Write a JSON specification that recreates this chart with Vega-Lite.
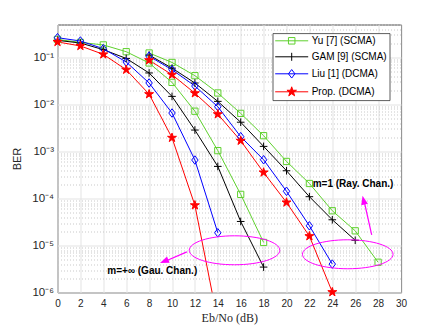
{
  "$schema": "https://vega.github.io/schema/vega-lite/v6.json",
  "width": 343.5,
  "height": 268,
  "autosize": {"type": "none"},
  "padding": {"left": 57.5, "top": 24.5, "right": 42, "bottom": 39.5},
  "background": "white",
  "datasets": {
    "curves": [
      {"m": "Yu [7] (SCMA)", "ch": "G", "x": 0, "ber": 0.241},
      {"m": "Yu [7] (SCMA)", "ch": "G", "x": 2, "ber": 0.208},
      {"m": "Yu [7] (SCMA)", "ch": "G", "x": 4, "ber": 0.184},
      {"m": "Yu [7] (SCMA)", "ch": "G", "x": 6, "ber": 0.132},
      {"m": "Yu [7] (SCMA)", "ch": "G", "x": 8, "ber": 0.076},
      {"m": "Yu [7] (SCMA)", "ch": "G", "x": 10, "ber": 0.0294},
      {"m": "Yu [7] (SCMA)", "ch": "G", "x": 12, "ber": 0.00716},
      {"m": "Yu [7] (SCMA)", "ch": "G", "x": 14, "ber": 0.00104},
      {"m": "Yu [7] (SCMA)", "ch": "G", "x": 16, "ber": 0.000122},
      {"m": "Yu [7] (SCMA)", "ch": "G", "x": 18, "ber": 0.0000116},
      {"m": "Yu [7] (SCMA)", "ch": "R", "x": 8, "ber": 0.124},
      {"m": "Yu [7] (SCMA)", "ch": "R", "x": 10, "ber": 0.078},
      {"m": "Yu [7] (SCMA)", "ch": "R", "x": 12, "ber": 0.0408},
      {"m": "Yu [7] (SCMA)", "ch": "R", "x": 14, "ber": 0.0175},
      {"m": "Yu [7] (SCMA)", "ch": "R", "x": 16, "ber": 0.00644},
      {"m": "Yu [7] (SCMA)", "ch": "R", "x": 18, "ber": 0.00216},
      {"m": "Yu [7] (SCMA)", "ch": "R", "x": 20, "ber": 0.000612},
      {"m": "Yu [7] (SCMA)", "ch": "R", "x": 22, "ber": 0.000208},
      {"m": "Yu [7] (SCMA)", "ch": "R", "x": 24, "ber": 0.0000547},
      {"m": "Yu [7] (SCMA)", "ch": "R", "x": 26, "ber": 0.0000205},
      {"m": "Yu [7] (SCMA)", "ch": "R", "x": 28, "ber": 0.0000044},
      {"m": "GAM [9] (SCMA)", "ch": "G", "x": 0, "ber": 0.23},
      {"m": "GAM [9] (SCMA)", "ch": "G", "x": 2, "ber": 0.202},
      {"m": "GAM [9] (SCMA)", "ch": "G", "x": 4, "ber": 0.146},
      {"m": "GAM [9] (SCMA)", "ch": "G", "x": 6, "ber": 0.095},
      {"m": "GAM [9] (SCMA)", "ch": "G", "x": 8, "ber": 0.0466},
      {"m": "GAM [9] (SCMA)", "ch": "G", "x": 10, "ber": 0.0148},
      {"m": "GAM [9] (SCMA)", "ch": "G", "x": 12, "ber": 0.00285},
      {"m": "GAM [9] (SCMA)", "ch": "G", "x": 14, "ber": 0.00048},
      {"m": "GAM [9] (SCMA)", "ch": "G", "x": 16, "ber": 0.0000324},
      {"m": "GAM [9] (SCMA)", "ch": "G", "x": 18, "ber": 0.00000347},
      {"m": "GAM [9] (SCMA)", "ch": "R", "x": 8, "ber": 0.112},
      {"m": "GAM [9] (SCMA)", "ch": "R", "x": 10, "ber": 0.059},
      {"m": "GAM [9] (SCMA)", "ch": "R", "x": 12, "ber": 0.0285},
      {"m": "GAM [9] (SCMA)", "ch": "R", "x": 14, "ber": 0.0116},
      {"m": "GAM [9] (SCMA)", "ch": "R", "x": 16, "ber": 0.00418},
      {"m": "GAM [9] (SCMA)", "ch": "R", "x": 18, "ber": 0.00128},
      {"m": "GAM [9] (SCMA)", "ch": "R", "x": 20, "ber": 0.000388},
      {"m": "GAM [9] (SCMA)", "ch": "R", "x": 22, "ber": 0.000109},
      {"m": "GAM [9] (SCMA)", "ch": "R", "x": 24, "ber": 0.0000352},
      {"m": "GAM [9] (SCMA)", "ch": "R", "x": 26, "ber": 0.0000129},
      {"m": "Liu [1] (DCMA)", "ch": "G", "x": 0, "ber": 0.262},
      {"m": "Liu [1] (DCMA)", "ch": "G", "x": 2, "ber": 0.223},
      {"m": "Liu [1] (DCMA)", "ch": "G", "x": 4, "ber": 0.153},
      {"m": "Liu [1] (DCMA)", "ch": "G", "x": 6, "ber": 0.0798},
      {"m": "Liu [1] (DCMA)", "ch": "G", "x": 8, "ber": 0.0285},
      {"m": "Liu [1] (DCMA)", "ch": "G", "x": 10, "ber": 0.00656},
      {"m": "Liu [1] (DCMA)", "ch": "G", "x": 12, "ber": 0.000656},
      {"m": "Liu [1] (DCMA)", "ch": "G", "x": 14, "ber": 0.0000186},
      {"m": "Liu [1] (DCMA)", "ch": "R", "x": 8, "ber": 0.106},
      {"m": "Liu [1] (DCMA)", "ch": "R", "x": 10, "ber": 0.0547},
      {"m": "Liu [1] (DCMA)", "ch": "R", "x": 12, "ber": 0.0246},
      {"m": "Liu [1] (DCMA)", "ch": "R", "x": 14, "ber": 0.00893},
      {"m": "Liu [1] (DCMA)", "ch": "R", "x": 16, "ber": 0.00206},
      {"m": "Liu [1] (DCMA)", "ch": "R", "x": 18, "ber": 0.000665},
      {"m": "Liu [1] (DCMA)", "ch": "R", "x": 20, "ber": 0.000142},
      {"m": "Liu [1] (DCMA)", "ch": "R", "x": 22, "ber": 0.0000262},
      {"m": "Liu [1] (DCMA)", "ch": "R", "x": 24, "ber": 0.00000402},
      {"m": "Prop. (DCMA)", "ch": "G", "x": 0, "ber": 0.213},
      {"m": "Prop. (DCMA)", "ch": "G", "x": 2, "ber": 0.175},
      {"m": "Prop. (DCMA)", "ch": "G", "x": 4, "ber": 0.116},
      {"m": "Prop. (DCMA)", "ch": "G", "x": 6, "ber": 0.0547},
      {"m": "Prop. (DCMA)", "ch": "G", "x": 8, "ber": 0.0165},
      {"m": "Prop. (DCMA)", "ch": "G", "x": 10, "ber": 0.00195},
      {"m": "Prop. (DCMA)", "ch": "G", "x": 12, "ber": 0.0000716},
      {"m": "Prop. (DCMA)", "ch": "G", "x": 14, "ber": 0.000000245},
      {"m": "Prop. (DCMA)", "ch": "R", "x": 8, "ber": 0.087},
      {"m": "Prop. (DCMA)", "ch": "R", "x": 10, "ber": 0.0428},
      {"m": "Prop. (DCMA)", "ch": "R", "x": 12, "ber": 0.0173},
      {"m": "Prop. (DCMA)", "ch": "R", "x": 14, "ber": 0.00618},
      {"m": "Prop. (DCMA)", "ch": "R", "x": 16, "ber": 0.00169},
      {"m": "Prop. (DCMA)", "ch": "R", "x": 18, "ber": 0.000357},
      {"m": "Prop. (DCMA)", "ch": "R", "x": 20, "ber": 0.0000822},
      {"m": "Prop. (DCMA)", "ch": "R", "x": 22, "ber": 0.0000158},
      {"m": "Prop. (DCMA)", "ch": "R", "x": 24, "ber": 0.00000102}
    ],
    "ellipses": [
      {"x": 15.46, "ber": 0.0000079},
      {"x": 25.35, "ber": 0.0000065}
    ],
    "arrows": [
      {"x": 11.3, "ber": 0.0000073, "x2": 9.3, "ber2": 0.0000045},
      {"x": 27.44, "ber": 0.0000169, "x2": 26.75, "ber2": 0.000095}
    ],
    "head1": [{"x": 8.95, "ber": 0.00000422}],
    "head2": [{"x": 26.64, "ber": 0.000114}],
    "notes": [
      {"x": 4.35, "ber": 0.0000029, "label": "m=+∞ (Gau. Chan.)"},
      {"x": 22.29, "ber": 0.000206, "label": "m=1 (Ray. Chan.)"}
    ]
  },
  "layer": [
    {
      "data": {"name": "curves"},
      "mark": {"type": "line", "clip": true, "strokeWidth": 1},
      "encoding": {
        "x": {
          "field": "x", "type": "quantitative",
          "scale": {"domain": [0, 30], "nice": false},
          "axis": {"title": "Eb/No (dB)", "values": [0, 2, 4, 6, 8, 10, 12, 14, 16, 18, 20, 22, 24, 26, 28, 30], "labelOverlap": false, "labelFlush": false}
        },
        "y": {
          "field": "ber", "type": "quantitative",
          "scale": {"type": "log", "domain": [0.000001, 0.5], "nice": false},
          "axis": {
            "title": "BER",
            "values": [1e-6, 2e-6, 3e-6, 4e-6, 5e-6, 6e-6, 7e-6, 8e-6, 9e-6, 1e-5, 2e-5, 3e-5, 4e-5, 5e-5, 6e-5, 7e-5, 8e-5, 9e-5, 1e-4, 2e-4, 3e-4, 4e-4, 5e-4, 6e-4, 7e-4, 8e-4, 9e-4, 1e-3, 2e-3, 3e-3, 4e-3, 5e-3, 6e-3, 7e-3, 8e-3, 9e-3, 0.01, 0.02, 0.03, 0.04, 0.05, 0.06, 0.07, 0.08, 0.09, 0.1, 0.2, 0.3, 0.4, 0.5],
            "labelExpr": "abs(log(datum.value)/LN10 - round(log(datum.value)/LN10)) < 0.001 ? '10' + ['⁰','⁻¹','⁻²','⁻³','⁻⁴','⁻⁵','⁻⁶'][-round(log(datum.value)/LN10)] : ''",
            "labelFlush": false, "labelOverlap": false,
            "gridColor": {"condition": {"test": "abs(log(datum.value)/LN10 - round(log(datum.value)/LN10)) < 0.001", "value": "#e3e3e3"}, "value": "#c9c9c9"},
            "gridDash": {"condition": {"test": "abs(log(datum.value)/LN10 - round(log(datum.value)/LN10)) < 0.001", "value": []}, "value": [1, 2]},
            "labelFontSize": 11.5, "labelPadding": 4, "titleFontSize": 11, "titlePadding": 9
          }
        },
        "stroke": {
          "field": "m", "type": "nominal",
          "scale": {"domain": ["Yu [7] (SCMA)", "GAM [9] (SCMA)", "Liu [1] (DCMA)", "Prop. (DCMA)"], "range": ["#5fd12e", "#000000", "#0000ff", "#ff0000"]},
          "legend": null
        },
        "detail": {"field": "ch", "type": "nominal"}
      }
    },
    {
      "data": {"name": "curves"},
      "transform": [{"filter": "datum.ber >= 0.000001"}],
      "mark": {"type": "point", "size": 80, "strokeWidth": 1, "opacity": 1},
      "encoding": {
        "x": {"field": "x", "type": "quantitative", "scale": {"domain": [0, 30], "nice": false},
          "axis": {"title": "Eb/No (dB)", "values": [0, 2, 4, 6, 8, 10, 12, 14, 16, 18, 20, 22, 24, 26, 28, 30], "labelOverlap": false, "labelFlush": false}},
        "y": {"field": "ber", "type": "quantitative", "scale": {"type": "log", "domain": [0.000001, 0.5], "nice": false}},
        "shape": {
          "field": "m", "type": "nominal",
          "scale": {"domain": ["Yu [7] (SCMA)", "GAM [9] (SCMA)", "Liu [1] (DCMA)", "Prop. (DCMA)"],
            "range": [
              "M-0.7,-0.7L0.7,-0.7L0.7,0.7L-0.7,0.7Z",
              "M-0.85,0L0.85,0M0,-0.85L0,0.85",
              "M0,-0.95L0.72,0L0,0.95L-0.72,0Z",
              "M0,-1.05L0.2357,-0.3245L0.9986,-0.3245L0.3812,0.1239L0.6174,0.8495L0,0.4011L-0.6174,0.8495L-0.3812,0.1239L-0.9986,-0.3245L-0.2357,-0.3245Z"
            ]},
          "legend": null
        },
        "stroke": {
          "field": "m", "type": "nominal",
          "scale": {"domain": ["Yu [7] (SCMA)", "GAM [9] (SCMA)", "Liu [1] (DCMA)", "Prop. (DCMA)"], "range": ["#5fd12e", "#000000", "#0000ff", "#ff0000"]},
          "legend": null
        },
        "fill": {
          "field": "m", "type": "nominal",
          "scale": {"domain": ["Yu [7] (SCMA)", "GAM [9] (SCMA)", "Liu [1] (DCMA)", "Prop. (DCMA)"], "range": ["transparent", "transparent", "transparent", "#ff0000"]},
          "legend": null
        }
      }
    },
    {
      "data": {"name": "curves"},
      "transform": [{"filter": "datum.ber >= 0.000001"}],
      "mark": {"type": "point", "size": 100, "strokeWidth": 1, "opacity": 0},
      "encoding": {
        "x": {"field": "x", "type": "quantitative", "scale": {"domain": [0, 30], "nice": false},
          "axis": {"title": "Eb/No (dB)", "values": [0, 2, 4, 6, 8, 10, 12, 14, 16, 18, 20, 22, 24, 26, 28, 30], "labelOverlap": false, "labelFlush": false}},
        "y": {"field": "ber", "type": "quantitative", "scale": {"type": "log", "domain": [0.000001, 0.5], "nice": false}},
        "shape": {
          "field": "m", "type": "nominal",
          "scale": {"domain": ["Yu [7] (SCMA)", "GAM [9] (SCMA)", "Liu [1] (DCMA)", "Prop. (DCMA)"],
            "range": [
              "M-1,0L5.6,0M1.65,-0.65L2.95,-0.65L2.95,0.65L1.65,0.65Z",
              "M-1,0L5.6,0M2.3,-0.8L2.3,0.8",
              "M-1,0L5.6,0M2.3,-0.85L2.95,0L2.3,0.85L1.65,0Z",
              "M-1,0L5.6,0M2.3,-1L2.5245,-0.309L3.251,-0.309L2.663,0.118L2.888,0.809L2.3,0.382L1.712,0.809L1.937,0.118L1.349,-0.309L2.0755,-0.309Z"
            ]},
          "legend": {"title": null}
        },
        "stroke": {
          "field": "m", "type": "nominal",
          "scale": {"domain": ["Yu [7] (SCMA)", "GAM [9] (SCMA)", "Liu [1] (DCMA)", "Prop. (DCMA)"], "range": ["#5fd12e", "#000000", "#0000ff", "#ff0000"]},
          "legend": {"title": null}
        },
        "fill": {
          "field": "m", "type": "nominal",
          "scale": {"domain": ["Yu [7] (SCMA)", "GAM [9] (SCMA)", "Liu [1] (DCMA)", "Prop. (DCMA)"], "range": ["transparent", "transparent", "transparent", "#ff0000"]},
          "legend": {"title": null}
        }
      }
    },
    {
      "data": {"name": "ellipses"},
      "mark": {"type": "point", "filled": false, "color": "#ff00ff", "opacity": 1, "strokeWidth": 1, "size": 8200,
        "shape": "M1,0C1,0.1767 0.5523,0.32 0,0.32C-0.5523,0.32 -1,0.1767 -1,0C-1,-0.1767 -0.5523,-0.32 0,-0.32C0.5523,-0.32 1,-0.1767 1,0Z"},
      "encoding": {
        "x": {"field": "x", "type": "quantitative", "scale": {"domain": [0, 30], "nice": false},
          "axis": {"title": "Eb/No (dB)", "values": [0, 2, 4, 6, 8, 10, 12, 14, 16, 18, 20, 22, 24, 26, 28, 30], "labelOverlap": false, "labelFlush": false}},
        "y": {"field": "ber", "type": "quantitative", "scale": {"type": "log", "domain": [0.000001, 0.5], "nice": false}}
      }
    },
    {
      "data": {"name": "arrows"},
      "mark": {"type": "rule", "color": "#ff00ff", "strokeWidth": 1.2},
      "encoding": {
        "x": {"field": "x", "type": "quantitative", "scale": {"domain": [0, 30], "nice": false},
          "axis": {"title": "Eb/No (dB)", "values": [0, 2, 4, 6, 8, 10, 12, 14, 16, 18, 20, 22, 24, 26, 28, 30], "labelOverlap": false, "labelFlush": false}},
        "y": {"field": "ber", "type": "quantitative", "scale": {"type": "log", "domain": [0.000001, 0.5], "nice": false}},
        "x2": {"field": "x2"},
        "y2": {"field": "ber2"}
      }
    },
    {
      "data": {"name": "head1"},
      "mark": {"type": "point", "filled": true, "color": "#ff00ff", "opacity": 1, "size": 127, "angle": 247.7, "shape": "M0,0L0.6,1.6L-0.6,1.6Z"},
      "encoding": {
        "x": {"field": "x", "type": "quantitative", "scale": {"domain": [0, 30], "nice": false},
          "axis": {"title": "Eb/No (dB)", "values": [0, 2, 4, 6, 8, 10, 12, 14, 16, 18, 20, 22, 24, 26, 28, 30], "labelOverlap": false, "labelFlush": false}},
        "y": {"field": "ber", "type": "quantitative", "scale": {"type": "log", "domain": [0.000001, 0.5], "nice": false}}
      }
    },
    {
      "data": {"name": "head2"},
      "mark": {"type": "point", "filled": true, "color": "#ff00ff", "opacity": 1, "size": 127, "angle": 346.8, "shape": "M0,0L0.6,1.6L-0.6,1.6Z"},
      "encoding": {
        "x": {"field": "x", "type": "quantitative", "scale": {"domain": [0, 30], "nice": false},
          "axis": {"title": "Eb/No (dB)", "values": [0, 2, 4, 6, 8, 10, 12, 14, 16, 18, 20, 22, 24, 26, 28, 30], "labelOverlap": false, "labelFlush": false}},
        "y": {"field": "ber", "type": "quantitative", "scale": {"type": "log", "domain": [0.000001, 0.5], "nice": false}}
      }
    },
    {
      "data": {"name": "notes"},
      "mark": {"type": "text", "align": "left", "baseline": "middle", "fontWeight": "bold", "fontSize": 10, "color": "#000000"},
      "encoding": {
        "x": {"field": "x", "type": "quantitative", "scale": {"domain": [0, 30], "nice": false},
          "axis": {"title": "Eb/No (dB)", "values": [0, 2, 4, 6, 8, 10, 12, 14, 16, 18, 20, 22, 24, 26, 28, 30], "labelOverlap": false, "labelFlush": false}},
        "y": {"field": "ber", "type": "quantitative", "scale": {"type": "log", "domain": [0.000001, 0.5], "nice": false}},
        "text": {"field": "label"}
      }
    }
  ],
  "resolve": {"scale": {"shape": "independent", "stroke": "independent", "fill": "independent"}},
  "config": {
    "font": "Liberation Sans",
    "view": {"stroke": "#4d4d4d", "strokeWidth": 1},
    "axis": {
      "labelOverlap": false, "labelSeparation": 0, "labelBound": false,
      "ticks": false, "domain": false, "grid": true, "gridColor": "#e3e3e3", "gridWidth": 1,
      "labelColor": "#262626", "titleColor": "#262626", "titleFontWeight": "normal"
    },
    "axisX": {
      "labelOverlap": false, "labelFlush": false, "labelFontSize": 10, "labelPadding": 6,
      "titleFont": "Liberation Serif", "titleFontSize": 12, "titlePadding": 4
    },
    "legend": {
      "orient": "none", "legendX": 215.2, "legendY": 8.8,
      "padding": 2, "rowPadding": 4, "labelOffset": 26,
      "symbolSize": 100, "symbolStrokeWidth": 1, "symbolOpacity": 1,
      "labelFontSize": 10, "labelColor": "#000000", "labelFont": "Liberation Sans",
      "strokeColor": "#333333", "fillColor": "#ffffff", "strokeWidth": 0.8
    }
  }
}
